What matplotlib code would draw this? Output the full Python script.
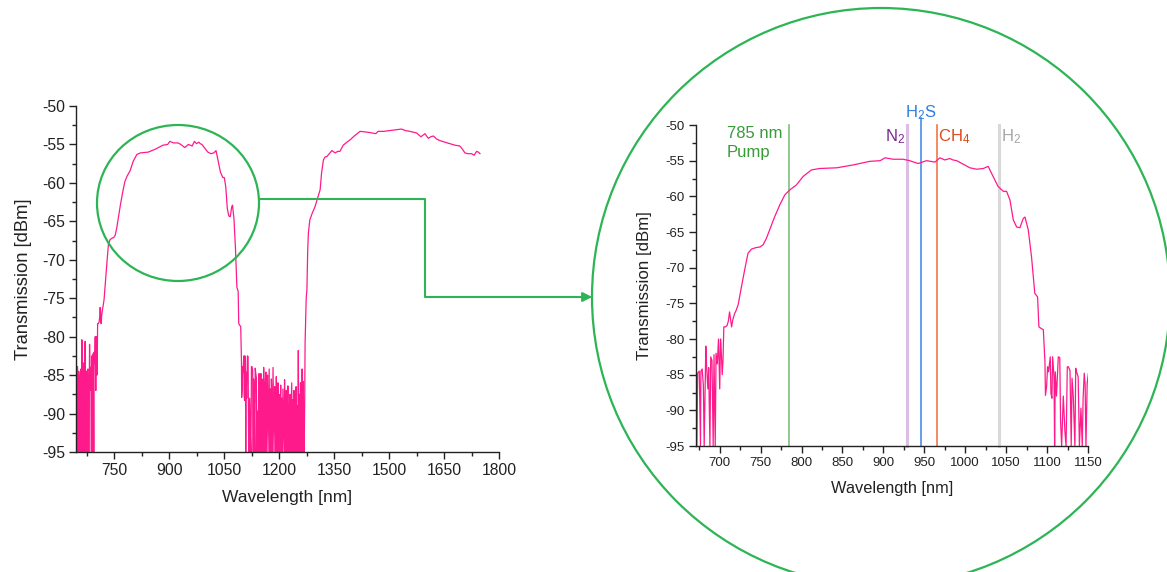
import matplotlib
matplotlib.use("Agg")
import matplotlib.pyplot as plt
from matplotlib.patches import Ellipse, FancyArrowPatch
from matplotlib.lines import Line2D

plt.rcParams['font.family'] = ['Liberation Sans', 'DejaVu Sans']
plt.rcParams['mathtext.fontset'] = 'custom'
plt.rcParams['mathtext.rm'] = 'Liberation Sans'
plt.rcParams['mathtext.it'] = 'Liberation Sans'

# ---------------- data ----------------
wavelength = [
    646, 647, 648, 650, 651, 652, 653.5, 655, 656.5, 658, 659.5, 661, 662, 663.5, 664.5, 666, 668, 669.5,
    671, 672, 673, 675, 676.5, 677, 678.5, 680, 681, 683, 684, 685.5, 686.5, 688, 689, 690.5, 692, 693,
    694.5, 695.5, 697, 698.5, 700, 701, 702, 703, 704, 705, 707, 709, 710.5, 712, 713, 714.5, 716, 718,
    720, 722.5, 726.5, 730.5, 734.5, 738.7, 744, 749, 753, 757, 761, 767, 773.4, 779.5, 785.6, 793.7,
    802, 812, 822, 843, 863, 883, 896, 902, 912, 924, 932, 942.5, 952.7, 963, 969, 975, 981, 985, 989.5,
    997.5, 1005.7, 1014, 1022, 1028, 1034, 1040, 1046.5, 1050.5, 1054.6, 1058.7, 1062.8, 1066.8, 1070.9,
    1073, 1077, 1081, 1085, 1088.4, 1090, 1092.5, 1095.4, 1097.4, 1098, 1099.4, 1100.6, 1101.8, 1103.9,
    1104.7, 1105.9, 1106.8, 1108.5, 1109.2, 1110, 1111.5, 1113.7, 1115.5, 1116.5, 1117.8, 1119.8, 1121.8,
    1123.2, 1124.7, 1126, 1128, 1129.5, 1130.5, 1132, 1134, 1135, 1136, 1138, 1139.5, 1141.4, 1143, 1144,
    1145.4, 1146.5, 1147.5, 1149, 1150.5, 1152, 1153.5, 1155, 1156.5, 1158, 1159.5, 1161, 1162.5, 1164,
    1165.5, 1167, 1168.5, 1170, 1171.5, 1173, 1174.5, 1176, 1177.5, 1179, 1180.5, 1182, 1183.5, 1185,
    1186.5, 1188, 1189.5, 1191, 1192.5, 1194, 1195.5, 1197, 1198.5, 1200, 1201.5, 1203, 1204.5, 1206,
    1207.5, 1209, 1210.5, 1212, 1213.5, 1215, 1216.5, 1218, 1219.5, 1221, 1222.5, 1224, 1225.5, 1227,
    1228.5, 1230, 1231.5, 1233, 1234.5, 1236, 1237.5, 1239, 1240.5, 1242, 1243.5, 1245, 1246.5, 1248,
    1249.5, 1251, 1252.5, 1254, 1255.5, 1257, 1258.5, 1260, 1261.5, 1263, 1264.5, 1266, 1267.5, 1268.5,
    1270, 1271, 1274, 1276, 1278, 1280, 1284, 1290, 1298, 1305, 1312, 1316, 1321, 1326, 1330, 1337, 1344,
    1353, 1360, 1366, 1375, 1385, 1394, 1405, 1421, 1440, 1453, 1464, 1470, 1485, 1502, 1520, 1534, 1545,
    1557, 1575, 1587, 1598, 1607, 1614, 1621, 1630, 1639, 1652, 1666, 1680, 1693, 1700, 1707, 1715, 1725,
    1732, 1739, 1744, 1748,
]
transmission = [
    -95, -82.6, -95, -83.9, -86.0, -95, -84.5, -86.0, -95, -85.8, -84.2, -95, -80.4, -86.5, -95, -83.4, -95, -84.0,
    -80.6, -95, -84.8, -84.5, -95, -84.5, -84.2, -86.5, -95, -81.0, -84.0, -87.0, -84.0, -95, -82.5, -83.0, -95, -82.2,
    -95, -82.0, -83.5, -80.0, -87.0, -80.0, -82.0, -85.0, -83.0, -78.3, -78.3, -78.1, -77.5, -76.2, -77.0, -78.3, -77.3, -76.5,
    -76.0, -75.2, -72.7, -70.3, -68.0, -67.4, -67.2, -67.1, -66.8, -65.9, -64.7, -62.9, -61.2, -59.8, -59.1, -58.4,
    -57.2, -56.3, -56.1, -56.0, -55.6, -55.1, -55.0, -54.6, -54.8, -54.8, -55.0, -55.4, -55.0, -55.2, -54.6, -54.9, -54.7, -54.9, -55.0,
    -55.5, -56.0, -56.2, -56.1, -55.8, -57.2, -58.6, -59.3, -59.3, -60.5, -63.3, -64.3, -64.4, -63.1,
    -62.9, -64.7, -68.5, -73.6, -74.1, -78.3, -78.5, -78.7, -83.2, -87.9, -86.7, -83.9, -84.6, -82.5,
    -87.6, -88.3, -82.5, -85.4, -95, -84.6, -88.0, -82.5, -82.6, -91.6, -95, -88.0, -93.0,
    -95, -83.9, -83.9, -84.4, -95, -85.5, -88.0, -95, -84.1, -84.6, -85.3, -95, -89.7, -95, -88.4,
    -84.8, -86.4, -95, -86.2, -84.8, -95, -85.5, -87.0, -95, -84.0, -88.5, -95, -86.0, -84.6,
    -95, -87.2, -85.0, -95, -89.0, -84.2, -95, -86.8, -95, -85.5, -88.0, -95, -84.0, -90.0,
    -95, -86.5, -87.8, -95, -85.2, -95, -88.6, -86.0, -95, -87.5, -95, -89.5, -86.3, -95,
    -88.0, -95, -86.8, -91.0, -95, -85.6, -95, -89.2, -87.0, -95, -92.0, -86.4, -95, -88.8,
    -95, -87.5, -95, -90.5, -86.0, -95, -88.2, -95, -87.0, -92.5, -95, -88.5, -86.5, -95,
    -89.0, -95, -81.8, -95, -87.5, -95, -86.0, -90.0, -95, -84.2, -95, -85.8, -95, -95,
    -88.0, -80.8, -75.0, -73.9, -69.0, -66.5, -64.8, -64.0, -63.1, -62.0, -60.9, -58.7, -57.0, -56.6, -56.6, -56.2, -55.8,
    -56.1, -55.9, -55.9, -55.1, -54.7, -54.4, -53.9, -53.3, -53.4, -53.5, -53.6, -53.3, -53.3, -53.2, -53.1, -53.0, -53.2,
    -53.3, -53.5, -54.0, -53.6, -54.2, -54.0, -53.9, -54.3, -54.5, -54.7, -54.9, -55.1, -55.2, -55.6, -56.1, -56.2, -56.2,
    -56.4, -55.9, -56.0, -56.2,
]

left_xticks = [750, 900, 1050, 1200, 1350, 1500, 1650, 1800]
right_xticks = [700, 750, 800, 850, 900, 950, 1000, 1050, 1100, 1150]
yticks = [-95, -90, -85, -80, -75, -70, -65, -60, -55, -50]

marker_names = ["785 nm\nPump", "N$_2$", "H$_2$S", "CH$_4$", "H$_2$"]
marker_wl = [785, 929, 946, 965, 1041]

# ---------------- figure ----------------
W, H = 1167, 572
fig = plt.figure(figsize=(W / 100, H / 100), dpi=100)
fig.patch.set_facecolor('white')

PINK = '#ff1a8c'
GREEN = '#2db455'
AXC = '#222222'


def fx(px):
    return px / W


def fy(py):
    return 1 - py / H


def style_axis(ax, fs_tick, fs_xlabel, fs_ylabel, xpad, ypad, xticks, xminor):
    for s in ['top', 'right']:
        ax.spines[s].set_visible(False)
    for s in ['left', 'bottom']:
        ax.spines[s].set_color(AXC)
        ax.spines[s].set_linewidth(1.0)
    ax.set_ylim(-95, -50)
    ax.set_yticks(yticks)
    ax.set_yticklabels([str(v) for v in yticks])
    ax.set_yticks([v + 2.5 for v in yticks[:-1]], minor=True)
    ax.set_xticks(xticks)
    ax.set_xticklabels([str(v) for v in xticks])
    ax.set_xticks(xminor, minor=True)
    ax.tick_params(which='major', direction='out', length=5, width=1, colors=AXC,
                   labelsize=fs_tick, labelcolor='#222222', pad=3)
    ax.tick_params(which='minor', direction='out', length=3, width=1, colors=AXC)
    ax.set_xlabel('Wavelength [nm]', fontsize=fs_xlabel, color='#222222', labelpad=xpad)
    ax.set_ylabel('Transmission [dBm]', fontsize=fs_ylabel, color='#222222', labelpad=ypad)


# Left axes
axL = fig.add_axes([fx(76), fy(452), fx(499) - fx(76), fy(106) - fy(452)])
axL.plot(wavelength, transmission, color=PINK, lw=0.9)
style_axis(axL, 11.3, 12.5, 13.2, 8.5, 7, left_xticks, [v + 75 for v in [600] + left_xticks[:-1]])
axL.set_xlim(646, 1800)

# Right axes
axR = fig.add_axes([fx(696), fy(446), fx(1088) - fx(696), fy(125) - fy(446)])
marker_line_colors = ['#7fbf7f', '#dcbde6', '#4a8ee6', '#f07848', '#d9d9d9']
marker_line_widths = [1.2, 2.2, 1.2, 1.2, 2.2]
for wl, c, lw in zip(marker_wl, marker_line_colors, marker_line_widths):
    ymax = 1.022 if wl == 946 else 1.0
    axR.axvline(wl, ymin=0, ymax=ymax, color=c, lw=lw, clip_on=False, zorder=1)
axR.plot(wavelength, transmission, color=PINK, lw=0.9, zorder=2)
style_axis(axR, 9.5, 11.8, 12.2, 8.5, 10, right_xticks, [v + 25 for v in [650] + right_xticks[:-1]])
axR.set_xlim(671, 1150)

# marker labels
txt_colors = ['#3a9a3a', '#7d2590', '#2f7fe0', '#e0481a', '#a6a6a6']
axR.text(708.5, -52.5, marker_names[0], color=txt_colors[0], fontsize=12,
         ha='left', va='center', linespacing=1.3)
axR.text(926, -51.7, marker_names[1], color=txt_colors[1], fontsize=12, ha='right', va='center')
axR.text(946, -48.3, marker_names[2], color=txt_colors[2], fontsize=12, ha='center', va='center',
         clip_on=False)
axR.text(967, -51.7, marker_names[3], color=txt_colors[3], fontsize=12, ha='left', va='center')
axR.text(1044, -51.7, marker_names[4], color=txt_colors[4], fontsize=12, ha='left', va='center')

# small ellipse on left chart
fig.add_artist(Ellipse((fx(178), fy(203)), 162 / W, 156 / H, transform=fig.transFigure,
                       fill=False, ec=GREEN, lw=1.6))
# big circle
fig.add_artist(Ellipse((fx(881), fy(297)), 578 / W, 578 / H, transform=fig.transFigure,
                       fill=False, ec=GREEN, lw=1.6))
# connector
fig.add_artist(Line2D([fx(259), fx(425), fx(425), fx(586)], [fy(199), fy(199), fy(297), fy(297)],
                      transform=fig.transFigure, color=GREEN, lw=1.5))
fig.add_artist(FancyArrowPatch((fx(580), fy(297)), (fx(595), fy(297)), transform=fig.transFigure,
                               arrowstyle='-|>', mutation_scale=14, color=GREEN, lw=1.5))

fig.savefig('out.png', dpi=100, facecolor='white')
